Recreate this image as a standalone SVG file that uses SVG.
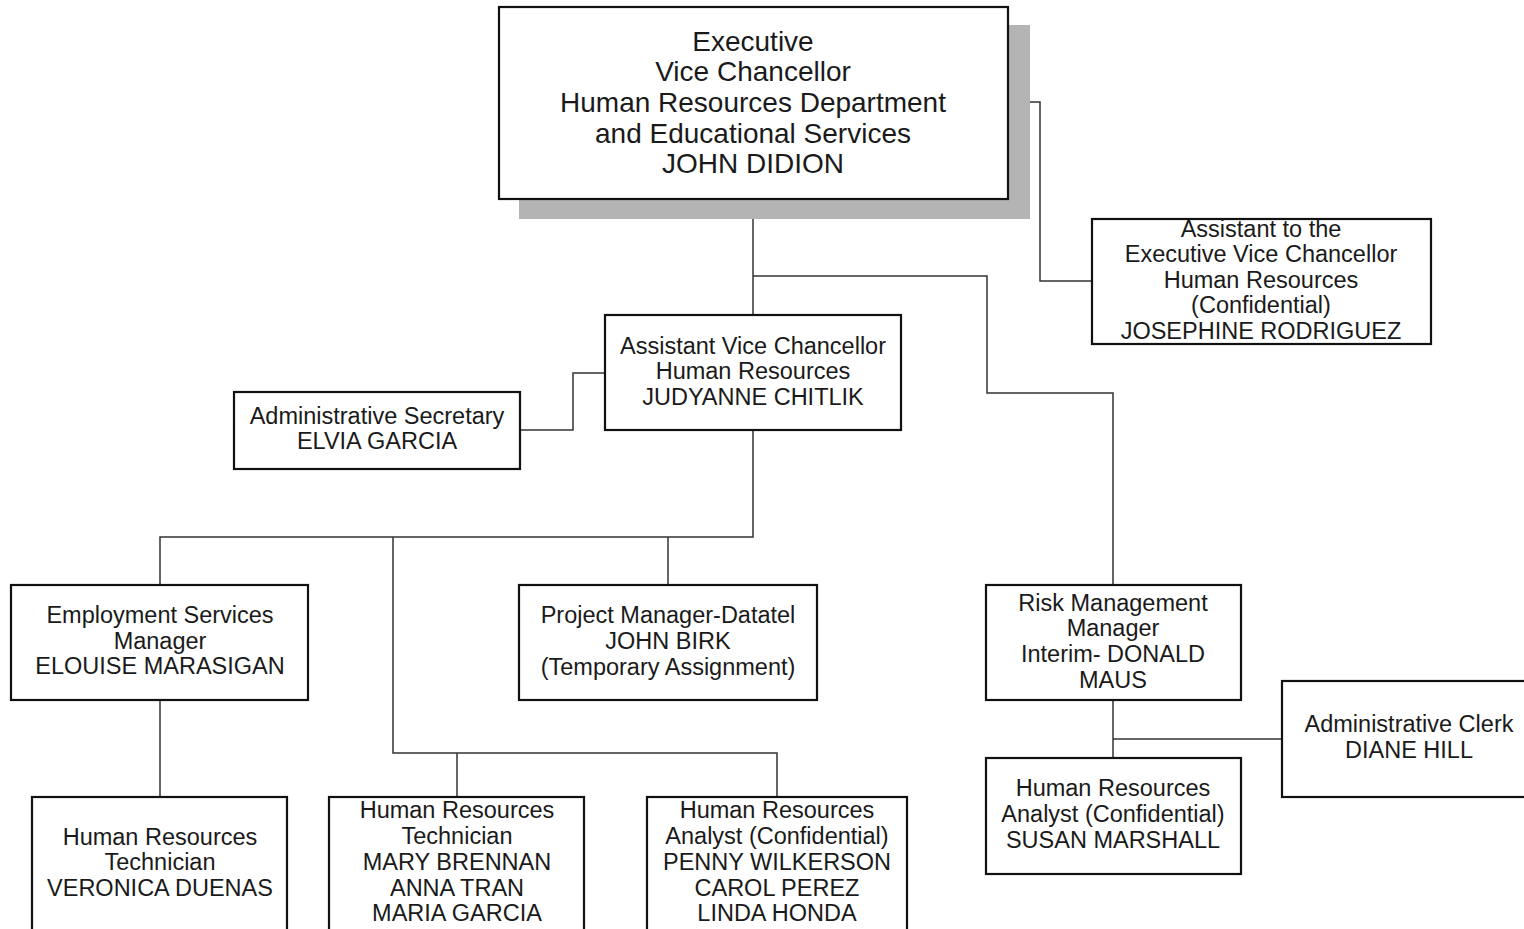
<svg xmlns="http://www.w3.org/2000/svg" width="1524" height="929" viewBox="0 0 1524 929">
  <style>
    .box { fill: #ffffff; stroke: #111111; stroke-width: 2.2; }
    .shadow { fill: #b4b4b4; }
    .conn { fill: none; stroke: #333333; stroke-width: 1.5; }
    text { font-family: "Liberation Sans", Arial, sans-serif; fill: #1a1a1a; text-anchor: middle; }
    .big { font-size: 28px; }
    .t { font-size: 23.5px; }
  </style>
  <rect width="1524" height="929" fill="#ffffff"/>

  <!-- reporting lines -->
  <g id="connectors" class="conn">
    <path d="M753,199 V315"/>
    <path d="M753,276 H987 V393 H1113 V585"/>
    <path d="M1008,102 H1040 V281 H1092"/>
    <path d="M520,430 H573 V373 H605"/>
    <path d="M753,430 V537 H160 V585"/>
    <path d="M668,537 V585"/>
    <path d="M393,537 V753 H777 V797"/>
    <path d="M457,753 V797"/>
    <path d="M160,700 V797"/>
    <path d="M1113,700 V758"/>
    <path d="M1113,739 H1282"/>
  </g>

  <g id="evc">
    <rect class="shadow" x="519" y="25" width="511" height="194"/>
    <rect class="box" x="499" y="7" width="509" height="192"/>
    <text class="big" x="753" y="51">Executive</text>
    <text class="big" x="753" y="81">Vice Chancellor</text>
    <text class="big" x="753" y="112">Human Resources Department</text>
    <text class="big" x="753" y="143">and Educational Services</text>
    <text class="big" x="753" y="173">JOHN DIDION</text>
  </g>

  <g id="assistant-evc">
    <rect class="box" x="1092" y="219" width="339" height="125"/>
    <text class="t" x="1261" y="237">Assistant to the</text>
    <text class="t" x="1261" y="262">Executive Vice Chancellor</text>
    <text class="t" x="1261" y="288">Human Resources</text>
    <text class="t" x="1261" y="313">(Confidential)</text>
    <text class="t" x="1261" y="339">JOSEPHINE RODRIGUEZ</text>
  </g>

  <g id="avc">
    <rect class="box" x="605" y="315" width="296" height="115"/>
    <text class="t" x="753" y="354">Assistant Vice Chancellor</text>
    <text class="t" x="753" y="379">Human Resources</text>
    <text class="t" x="753" y="405">JUDYANNE CHITLIK</text>
  </g>

  <g id="admin-secretary">
    <rect class="box" x="234" y="392" width="286" height="77"/>
    <text class="t" x="377" y="424">Administrative Secretary</text>
    <text class="t" x="377" y="449">ELVIA GARCIA</text>
  </g>

  <g id="employment-manager">
    <rect class="box" x="11" y="585" width="297" height="115"/>
    <text class="t" x="160" y="623">Employment Services</text>
    <text class="t" x="160" y="649">Manager</text>
    <text class="t" x="160" y="674">ELOUISE MARASIGAN</text>
  </g>

  <g id="project-manager">
    <rect class="box" x="519" y="585" width="298" height="115"/>
    <text class="t" x="668" y="623">Project Manager-Datatel</text>
    <text class="t" x="668" y="649">JOHN BIRK</text>
    <text class="t" x="668" y="675">(Temporary Assignment)</text>
  </g>

  <g id="risk-manager">
    <rect class="box" x="986" y="585" width="255" height="115"/>
    <text class="t" x="1113" y="611">Risk Management</text>
    <text class="t" x="1113" y="636">Manager</text>
    <text class="t" x="1113" y="662">Interim- DONALD</text>
    <text class="t" x="1113" y="688">MAUS</text>
  </g>

  <g id="admin-clerk">
    <rect class="box" x="1282" y="681" width="250" height="116"/>
    <text class="t" x="1409" y="732">Administrative Clerk</text>
    <text class="t" x="1409" y="758">DIANE HILL</text>
  </g>

  <g id="hr-analyst-risk">
    <rect class="box" x="986" y="758" width="255" height="116"/>
    <text class="t" x="1113" y="796">Human Resources</text>
    <text class="t" x="1113" y="822">Analyst (Confidential)</text>
    <text class="t" x="1113" y="848">SUSAN MARSHALL</text>
  </g>

  <g id="hr-technician-1">
    <rect class="box" x="32" y="797" width="255" height="150"/>
    <text class="t" x="160" y="845">Human Resources</text>
    <text class="t" x="160" y="870">Technician</text>
    <text class="t" x="160" y="896">VERONICA DUENAS</text>
  </g>

  <g id="hr-technicians">
    <rect class="box" x="329" y="797" width="255" height="150"/>
    <text class="t" x="457" y="818">Human Resources</text>
    <text class="t" x="457" y="844">Technician</text>
    <text class="t" x="457" y="870">MARY BRENNAN</text>
    <text class="t" x="457" y="896">ANNA TRAN</text>
    <text class="t" x="457" y="921">MARIA GARCIA</text>
  </g>

  <g id="hr-analysts">
    <rect class="box" x="647" y="797" width="260" height="150"/>
    <text class="t" x="777" y="818">Human Resources</text>
    <text class="t" x="777" y="844">Analyst (Confidential)</text>
    <text class="t" x="777" y="870">PENNY WILKERSON</text>
    <text class="t" x="777" y="896">CAROL PEREZ</text>
    <text class="t" x="777" y="921">LINDA HONDA</text>
  </g>
</svg>
